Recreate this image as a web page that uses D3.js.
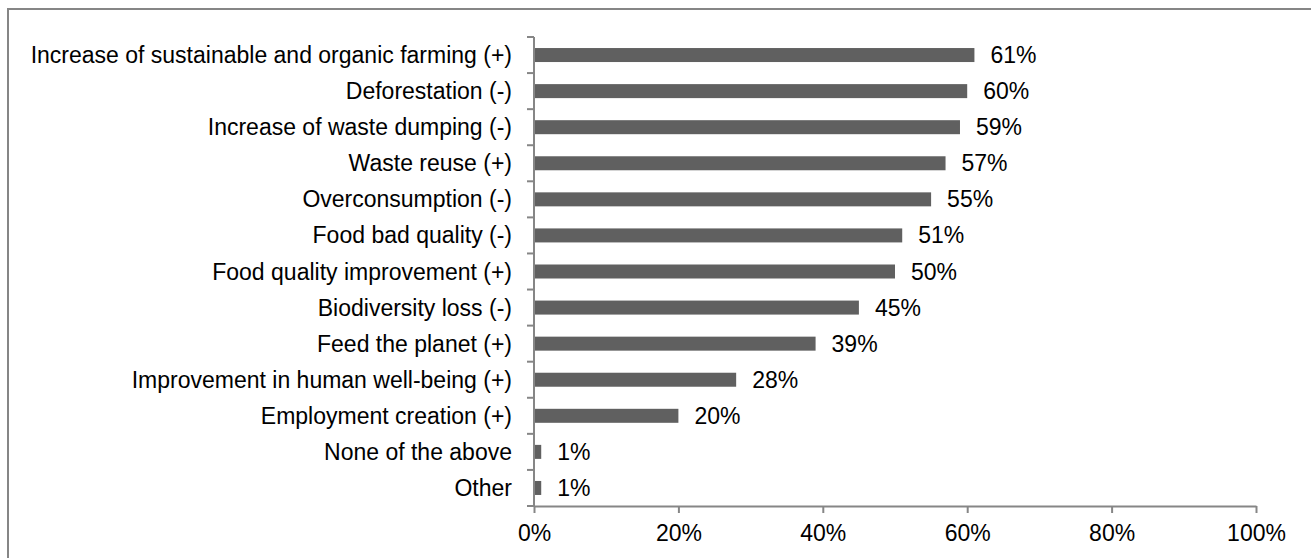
<!DOCTYPE html>
<html lang="en">
<head>
  <meta charset="UTF-8">
  <title>Perceived impacts</title>
  <script src="https://d3js.org/d3.v7.min.js"></script>
  <style>
    body {
      margin: 0;
      background: #fff;
      font-family: "Liberation Sans", Arial, sans-serif;
    }
    .cat, .val, .tick text {
      font-size: 23px;
      fill: #000;
    }
  </style>
</head>
<body>
  <div id="chart"></div>

  <script>
    const categories = [
      "Increase of sustainable and organic farming (+)",
      "Deforestation (-)",
      "Increase of waste dumping (-)",
      "Waste reuse (+)",
      "Overconsumption (-)",
      "Food bad quality (-)",
      "Food quality improvement (+)",
      "Biodiversity loss (-)",
      "Feed the planet (+)",
      "Improvement in human well-being (+)",
      "Employment creation (+)",
      "None of the above",
      "Other"
    ];
    const values = [0.61, 0.60, 0.59, 0.57, 0.55, 0.51, 0.50, 0.45, 0.39, 0.28, 0.20, 0.01, 0.01];
    const xTicks = [0, 0.2, 0.4, 0.6, 0.8, 1.0];

    const W = 1311, H = 558;
    const axisColor = "#868686";
    const barColor = "#606060";

    const svg = d3.select("#chart")
      .append("svg")
      .attr("width", W)
      .attr("height", H);

    // outer frame (only top/left visible in the crop)
    svg.append("rect")
      .attr("x", 8)
      .attr("y", 9)
      .attr("width", W + 20)
      .attr("height", H + 20)
      .attr("fill", "none")
      .attr("stroke", axisColor)
      .attr("stroke-width", 2);

    const x = d3.scaleLinear()
      .domain([0, 1])
      .range([534, 1256]);

    const y = d3.scaleBand()
      .domain(categories)
      .range([37, 506])
      .paddingInner(0)
      .paddingOuter(0);

    const barH = 14;

    // bars
    svg.selectAll(".bar")
      .data(values)
      .join("rect")
      .attr("class", "bar")
      .attr("x", x(0))
      .attr("y", (d, i) => y(categories[i]) + y.bandwidth() / 2 - barH / 2)
      .attr("width", d => x(d) - x(0))
      .attr("height", barH)
      .attr("fill", barColor);

    // value labels
    svg.selectAll(".val")
      .data(values)
      .join("text")
      .attr("class", "val")
      .attr("x", d => x(d) + 16)
      .attr("y", (d, i) => y(categories[i]) + y.bandwidth() / 2)
      .attr("dy", "0.35em")
      .text(d => d3.format(".0%")(d));

    // category labels
    svg.selectAll(".cat")
      .data(categories)
      .join("text")
      .attr("class", "cat")
      .attr("x", 512)
      .attr("y", d => y(d) + y.bandwidth() / 2)
      .attr("dy", "0.35em")
      .attr("text-anchor", "end")
      .text(d => d);

    // y axis: line with ticks at band boundaries
    const bounds = categories.map(c => y(c)).concat([y.range()[1]]);
    svg.append("line")
      .attr("x1", x(0)).attr("x2", x(0))
      .attr("y1", y.range()[0]).attr("y2", y.range()[1])
      .attr("stroke", axisColor).attr("stroke-width", 2);
    svg.selectAll(".ytick")
      .data(bounds)
      .join("line")
      .attr("class", "ytick")
      .attr("x1", x(0) - 7).attr("x2", x(0))
      .attr("y1", d => d).attr("y2", d => d)
      .attr("stroke", axisColor).attr("stroke-width", 2);

    // x axis
    const xAxis = svg.append("g")
      .attr("transform", `translate(0,${y.range()[1]})`)
      .call(d3.axisBottom(x)
        .tickValues(xTicks)
        .tickFormat(d3.format(".0%"))
        .tickSize(7)
        .tickSizeOuter(0)
        .tickPadding(12));
    xAxis.select(".domain").attr("stroke", axisColor).attr("stroke-width", 2);
    xAxis.selectAll(".tick line").attr("stroke", axisColor).attr("stroke-width", 2);
    xAxis.selectAll(".tick text")
      .attr("font-family", null)
      .attr("font-size", null);
  </script>
</body>
</html>
